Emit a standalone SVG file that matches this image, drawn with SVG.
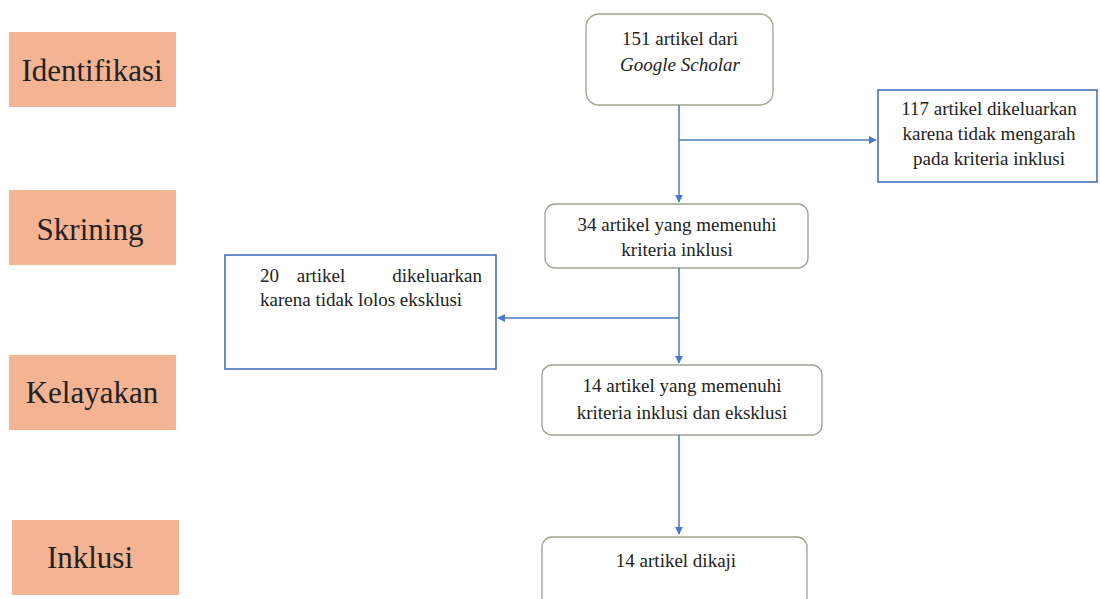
<svg xmlns="http://www.w3.org/2000/svg" width="1100" height="599" viewBox="0 0 1100 599">
<defs>
<style>
.stage{fill:#F4B393}
.stxt{font-family:"Liberation Serif",serif;font-size:31px;fill:#222;text-anchor:middle}
.rnode{fill:#fff;stroke:#9CA38E;stroke-width:1.3}
.bnode{fill:#fff;stroke:#3A6AB8;stroke-width:1.5}
.t{font-family:"Liberation Serif",serif;font-size:19px;fill:#222;text-anchor:middle}
.ts{text-anchor:start}
.te{text-anchor:end}
.c{stroke:#4A78C8;stroke-width:1.5;fill:none}
</style>
<marker id="ah" viewBox="0 0 10 10" refX="9" refY="5" markerWidth="8" markerHeight="8" markerUnits="userSpaceOnUse" orient="auto">
<path d="M0,0 L10,5 L0,10 z" fill="#4A78C8"/>
</marker>
</defs>
<rect width="1100" height="599" fill="#fff"/>
<g id="stage-identifikasi"><rect class="stage" x="9" y="32" width="167" height="75"/><text class="stxt" x="92" y="81">Identifikasi</text></g>
<g id="stage-skrining"><rect class="stage" x="9" y="190" width="167" height="75"/><text class="stxt" x="90" y="240">Skrining</text></g>
<g id="stage-kelayakan"><rect class="stage" x="9" y="355" width="167" height="75"/><text class="stxt" x="92" y="403">Kelayakan</text></g>
<g id="stage-inklusi"><rect class="stage" x="12" y="520" width="167" height="75"/><text class="stxt" x="90" y="568">Inklusi</text></g>

<g id="n151"><rect class="rnode" x="586" y="14" width="187" height="91" rx="13"/>
<text class="t" x="680" y="45">151 artikel dari</text>
<text class="t" x="680" y="71" font-style="italic">Google Scholar</text></g>
<g id="n117"><rect class="bnode" x="878" y="90" width="219" height="92"/>
<text class="t" x="989" y="115">117 artikel dikeluarkan</text>
<text class="t" x="989" y="140">karena tidak mengarah</text>
<text class="t" x="989" y="165">pada kriteria inklusi</text></g>
<g id="n34"><rect class="rnode" x="545" y="204" width="263" height="64" rx="10"/>
<text class="t" x="677" y="231">34 artikel yang memenuhi</text>
<text class="t" x="677" y="256">kriteria inklusi</text></g>
<g id="n20"><rect class="bnode" x="225" y="255" width="271" height="114"/>
<text class="t ts" x="260" y="282">20</text>
<text class="t" x="321" y="282">artikel</text>
<text class="t te" x="482" y="282">dikeluarkan</text>
<text class="t ts" x="260" y="306">karena tidak lolos eksklusi</text></g>
<g id="n14"><rect class="rnode" x="542" y="365" width="280" height="70" rx="10"/>
<text class="t" x="682" y="392">14 artikel yang memenuhi</text>
<text class="t" x="682" y="419">kriteria inklusi dan eksklusi</text></g>
<g id="n14k"><rect class="rnode" x="542" y="537" width="265" height="80" rx="10"/>
<text class="t" x="676" y="567">14 artikel dikaji</text></g>

<g id="connectors">
<line class="c" x1="679" y1="105" x2="679" y2="202" marker-end="url(#ah)"/>
<line class="c" x1="679" y1="140" x2="876" y2="140" marker-end="url(#ah)"/>
<line class="c" x1="679" y1="268" x2="679" y2="363" marker-end="url(#ah)"/>
<line class="c" x1="679" y1="318" x2="498" y2="318" marker-end="url(#ah)"/>
<line class="c" x1="679" y1="435" x2="679" y2="534" marker-end="url(#ah)"/>
</g>
</svg>
